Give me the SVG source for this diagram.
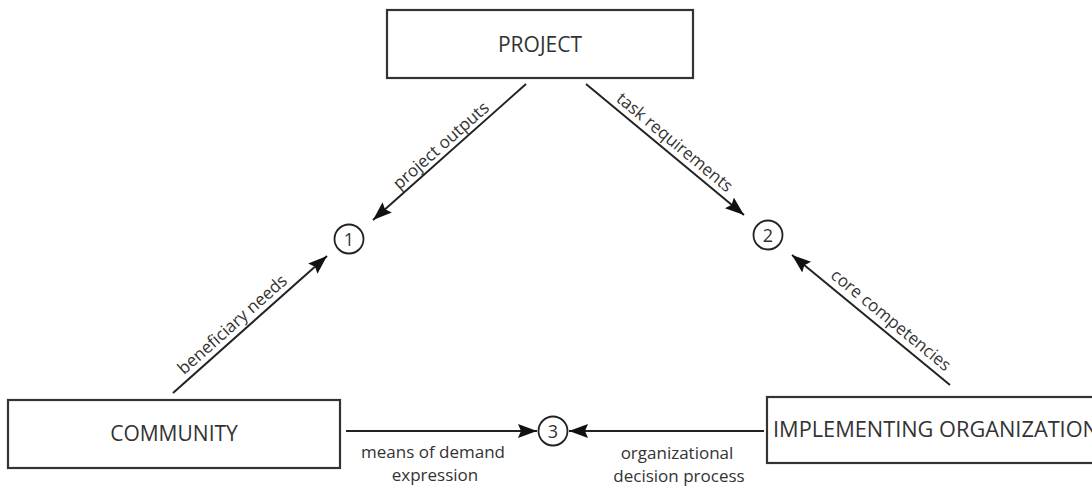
<svg xmlns="http://www.w3.org/2000/svg" width="1092" height="490" viewBox="0 0 1092 490">
  <style>
    .box { fill: #ffffff; stroke: #333333; stroke-width: 2.2; }
    .boxlabel { font-family: "Open Sans", "Noto Sans", "Liberation Sans", sans-serif; font-size: 21px; fill: #333333; }
    .edgelabel { font-family: "Open Sans", "Noto Sans", "Liberation Sans", sans-serif; font-size: 17px; fill: #333333; }
    .conn { fill: none; stroke: #222222; stroke-width: 2; }
    .hub { fill: #ffffff; stroke: #222222; stroke-width: 1.8; }
    .hubnum { font-family: "Open Sans", "Noto Sans", "Liberation Sans", sans-serif; font-size: 18px; fill: #333333; text-anchor: middle; }
  </style>
  <defs>
    <marker id="arrow" markerUnits="userSpaceOnUse" markerWidth="20" markerHeight="16" refX="19" refY="7" orient="auto">
      <path d="M0,0 L19,7 L0,14 L3,7 z" fill="#111111"/>
    </marker>
  </defs>

  <rect width="1092" height="490" fill="#ffffff"/>

  <!-- main actors -->
  <g id="project">
    <rect class="box" x="387" y="10" width="306" height="68"/>
    <text class="boxlabel" x="540" y="52" text-anchor="middle">PROJECT</text>
  </g>
  <g id="community">
    <rect class="box" x="8" y="400" width="332" height="68"/>
    <text class="boxlabel" x="174" y="441" text-anchor="middle">COMMUNITY</text>
  </g>
  <g id="implementing-organization">
    <rect class="box" x="767" y="397" width="340" height="66"/>
    <text class="boxlabel" x="773" y="437" textLength="326" lengthAdjust="spacingAndGlyphs">IMPLEMENTING ORGANIZATION</text>
  </g>

  <!-- numbered meeting points -->
  <g id="point-1">
    <circle class="hub" cx="349" cy="239" r="14.5"/>
    <text class="hubnum" x="349" y="245.5">1</text>
  </g>
  <g id="point-2">
    <circle class="hub" cx="768" cy="235" r="14.5"/>
    <text class="hubnum" x="768" y="241.5">2</text>
  </g>
  <g id="point-3">
    <circle class="hub" cx="553" cy="431" r="14.5"/>
    <text class="hubnum" x="553" y="437.5">3</text>
  </g>

  <!-- flows -->
  <g id="connectors">
    <line class="conn" x1="526" y1="84" x2="373" y2="220" marker-end="url(#arrow)"/>
    <text class="edgelabel" text-anchor="middle" transform="translate(448,153.5) rotate(-41.6)" y="-5">project outputs</text>

    <line class="conn" x1="586" y1="84" x2="744" y2="215" marker-end="url(#arrow)"/>
    <text class="edgelabel" text-anchor="middle" transform="translate(667.2,151.3) rotate(39.7)" y="-6">task requirements</text>

    <line class="conn" x1="950" y1="385" x2="792" y2="255" marker-end="url(#arrow)"/>
    <text class="edgelabel" text-anchor="middle" transform="translate(882.9,329.8) rotate(39.4)" y="-7">core competencies</text>

    <line class="conn" x1="173" y1="393" x2="327" y2="256" marker-end="url(#arrow)"/>
    <text class="edgelabel" text-anchor="middle" transform="translate(240.2,333.2) rotate(-41.7)" y="-6">beneficiary needs</text>

    <line class="conn" x1="346" y1="431" x2="537" y2="431" marker-end="url(#arrow)"/>
    <text class="edgelabel" x="433" y="458" text-anchor="middle">means of demand</text>
    <text class="edgelabel" x="435" y="481" text-anchor="middle">expression</text>

    <line class="conn" x1="764" y1="431" x2="569" y2="431" marker-end="url(#arrow)"/>
    <text class="edgelabel" x="677" y="459" text-anchor="middle">organizational</text>
    <text class="edgelabel" x="679" y="482" text-anchor="middle">decision process</text>
  </g>
</svg>
